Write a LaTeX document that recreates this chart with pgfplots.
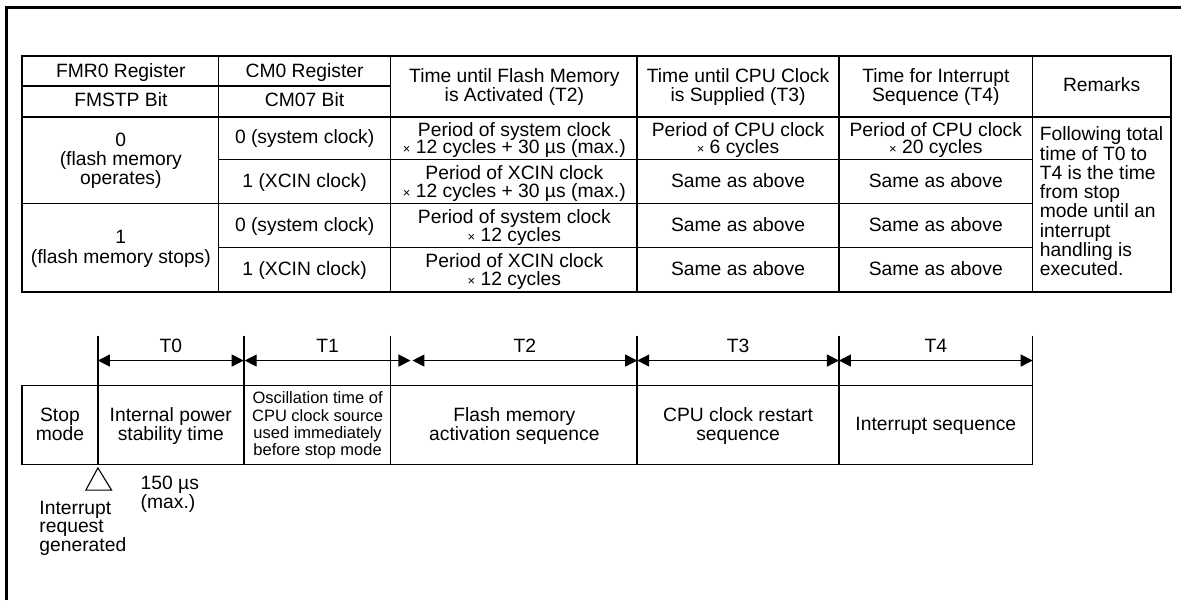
\documentclass[border=0pt]{standalone}
\usepackage{pgfplots}
\pgfplotsset{compat=1.18}
\usepackage{fontspec}
\setmainfont{Liberation Sans}
\usetikzlibrary{arrows.meta}
\newcommand\f{\fontsize{19.3}{19}\selectfont}
\newcommand\fs{\fontsize{16.5}{17.3}\selectfont}
\newcommand\tm{{\fontsize{13}{13}\selectfont ×}}
\newcommand\Tc[3]{\node[anchor=base] at (#1,#2) {#3};}
\newcommand\Tl[3]{\node[anchor=base west] at (#1,#2) {#3};}
\begin{document}
\begin{tikzpicture}
\begin{axis}[
  width=1182pt, height=601pt, scale only axis,
  xmin=0, xmax=1182, ymin=0, ymax=601, y dir=reverse,
  hide axis, clip=false,
]
\path (0,0) rectangle (1182,601);
% outer frame
\draw[line width=3pt] (6.5,601) -- (6.5,7.3) -- (1182,7.3);
% table
\draw[line width=2pt] (22,56) rectangle (1172,292);
\draw[line width=1.4pt] (219,56) -- (219,292);
\draw[line width=1.4pt] (391,56) -- (391,292);
\draw[line width=1.4pt] (638,56) -- (638,292);
\draw[line width=1.4pt] (840,56) -- (840,292);
\draw[line width=1.4pt] (1034,56) -- (1034,292);
\draw[line width=1.4pt] (22,86) -- (391,86);
\draw[line width=1.6pt] (22,117) -- (1172,117);
\draw[line width=1.4pt] (219,160) -- (1034,160);
\draw[line width=1.4pt] (22,204) -- (1034,204);
\draw[line width=1.4pt] (219,248) -- (1034,248);
\begin{scope}[every node/.style={font=\f, inner sep=0pt}]
% header
\Tc{121}{77.3}{FMR0 Register}
\Tc{121}{106.7}{FMSTP Bit}
\Tc{305}{77.3}{CM0 Register}
\Tc{305}{106.7}{CM07 Bit}
\Tc{515}{82.5}{Time until Flash Memory}
\Tc{515}{101.5}{is Activated (T2)}
\Tc{739}{82.5}{Time until CPU Clock}
\Tc{739}{101.5}{is Supplied (T3)}
\Tc{937}{82.5}{Time for Interrupt}
\Tc{937}{101.5}{Sequence (T4)}
\Tc{1103}{91.2}{Remarks}
% column 1
\Tc{121}{146.5}{0}
\Tc{121}{165.5}{(flash memory}
\Tc{121}{184.5}{operates)}
\Tc{121}{244}{1}
\Tc{121}{263.5}{(flash memory stops)}
% column 2
\Tc{305}{144}{0 (system clock)}
\Tc{305}{188}{1 (XCIN clock)}
\Tc{305}{232}{0 (system clock)}
\Tc{305}{276}{1 (XCIN clock)}
% column 3
\Tc{515}{136.3}{Period of system clock}
\Tc{515}{154}{\tm{} 12 cycles + 30 µs (max.)}
\Tc{515}{180}{Period of XCIN clock}
\Tc{515}{197.5}{\tm{} 12 cycles + 30 µs (max.)}
\Tc{515}{224}{Period of system clock}
\Tc{515}{241.5}{\tm{} 12 cycles}
\Tc{515}{268}{Period of XCIN clock}
\Tc{515}{285.5}{\tm{} 12 cycles}
% column 4
\Tc{739}{136.3}{Period of CPU clock}
\Tc{739}{154}{\tm{} 6 cycles}
\Tc{739}{188}{Same as above}
\Tc{739}{232}{Same as above}
\Tc{739}{276}{Same as above}
% column 5
\Tc{937}{136.3}{Period of CPU clock}
\Tc{937}{154}{\tm{} 20 cycles}
\Tc{937}{188}{Same as above}
\Tc{937}{232}{Same as above}
\Tc{937}{276}{Same as above}
% remarks
\Tl{1041}{141}{Following total}
\Tl{1041}{160.3}{time of T0 to}
\Tl{1041}{179.6}{T4 is the time}
\Tl{1041}{198.9}{from stop}
\Tl{1041}{218.2}{mode until an}
\Tl{1041}{237.5}{interrupt}
\Tl{1041}{256.8}{handling is}
\Tl{1041}{276.1}{executed.}
% diagram labels
\Tc{171}{353}{T0}
\Tc{328}{353}{T1}
\Tc{525.5}{353}{T2}
\Tc{739}{353}{T3}
\Tc{937}{353}{T4}
\Tc{60}{422}{Stop}
\Tc{60}{441}{mode}
\Tc{171}{422}{Internal power}
\Tc{171}{441}{stability time}
\begin{scope}[every node/.style={font=\fs, inner sep=0pt}]
\Tc{318}{404.5}{Oscillation time of}
\Tc{318}{421.8}{CPU clock source}
\Tc{318}{439.1}{used immediately}
\Tc{318}{456.4}{before stop mode}
\end{scope}
\Tc{515}{422}{Flash memory}
\Tc{515}{441}{activation sequence}
\Tc{739}{422}{CPU clock restart}
\Tc{739}{441}{sequence}
\Tc{937}{431}{Interrupt sequence}
\Tl{140.7}{490}{150 µs}
\Tl{140.7}{509}{(max.)}
\Tl{39.3}{515}{Interrupt}
\Tl{39.3}{533.5}{request}
\Tl{39.3}{552}{generated}
\end{scope}
% diagram
\draw[line width=1.5pt] (22,386) rectangle (1034,465);
\draw[line width=1.5pt] (98,336) -- (98,465);
\draw[line width=1.5pt] (244.5,336) -- (244.5,465);
\draw[line width=1.5pt] (391,336) -- (391,465);
\draw[line width=1.5pt] (638,336) -- (638,465);
\draw[line width=1.5pt] (840,336) -- (840,465);
\draw[line width=1.5pt] (1034,336) -- (1034,386);
\begin{scope}[line width=1.2pt, {Triangle[length=12pt,width=12pt]}-{Triangle[length=12pt,width=12pt]}]
\draw (98,361) -- (244,361);
\draw (245,361) -- (411,361);
\draw (413,361) -- (638,361);
\draw (638,361) -- (840,361);
\draw (840,361) -- (1034,361);
\end{scope}
\draw[line width=1.1pt] (98,468.5) -- (86,490.7) -- (111.7,490.7) -- cycle;
\end{axis}
\end{tikzpicture}
\end{document}
